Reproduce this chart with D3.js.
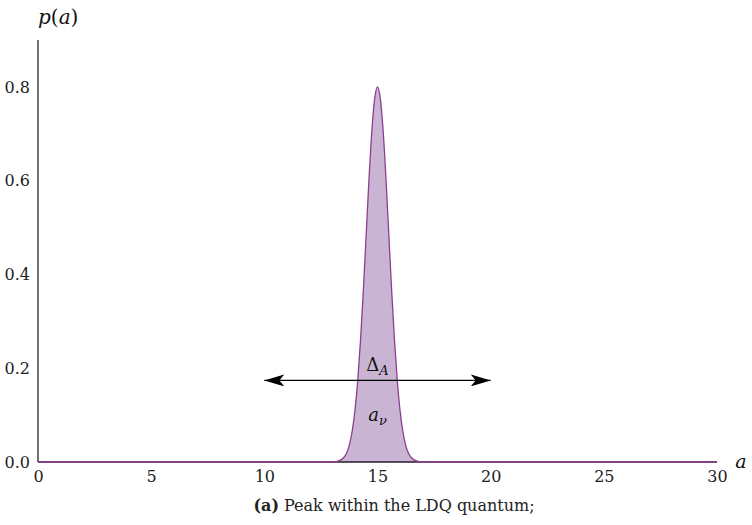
<!DOCTYPE html>
<html>
<head>
<meta charset="utf-8">
<script src="https://cdn.jsdelivr.net/npm/d3@7"></script>
<style>
  body { margin: 0; background: #fff; }
  text { font-family: "DejaVu Serif", "Liberation Serif", serif; }
</style>
</head>
<body>
<div class="chart"></div>
<script>
var svgWidth = 752;
var svgHeight = 525;

var margin = { top: 40, right: 35, bottom: 63, left: 38 };
var width = svgWidth - margin.left - margin.right;
var height = svgHeight - margin.top - margin.bottom;

// values
var aValues = [0, 12.5, 13.0, 13.25, 13.5, 13.625, 13.75, 13.875, 14.0, 14.125, 14.25, 14.375, 14.5, 14.625, 14.75, 14.875,
  15.0, 15.125, 15.25, 15.375, 15.5, 15.625, 15.75, 15.875, 16.0, 16.125, 16.25, 16.375, 16.5, 16.75, 17.0, 17.5, 30];
var pValues = [0, 0, 0, 0.002, 0.009, 0.018, 0.035, 0.064, 0.108, 0.173, 0.26, 0.366, 0.485, 0.604, 0.706, 0.775,
  0.8, 0.775, 0.706, 0.604, 0.485, 0.366, 0.26, 0.173, 0.108, 0.064, 0.035, 0.018, 0.009, 0.002, 0, 0, 0];
var xTicks = [0, 5, 10, 15, 20, 25, 30];
var yTicks = [0.0, 0.2, 0.4, 0.6, 0.8];
var arrowFrom = 10, arrowTo = 20, arrowLevel = 0.174;

var points = aValues.map((a, i) => ({ a: a, p: pValues[i] }));

var svg = d3.select(".chart")
  .append("svg")
  .attr("width", svgWidth)
  .attr("height", svgHeight);

var chartGroup = svg.append("g")
  .attr("transform", `translate(${margin.left}, ${margin.top})`);

var xLinearScale = d3.scaleLinear().domain([0, 30]).range([0, width]);
var yLinearScale = d3.scaleLinear().domain([0, 0.9]).range([height, 0]);

// filled peak
var area = d3.area()
  .x(d => xLinearScale(d.a))
  .y0(yLinearScale(0))
  .y1(d => yLinearScale(d.p))
  .curve(d3.curveMonotoneX);

chartGroup.append("path")
  .datum(points)
  .attr("d", area)
  .attr("fill", "#c9b5d3");

// axes: no tick marks, plain lines
var bottomAxis = d3.axisBottom(xLinearScale).tickValues(xTicks).tickSize(0).tickPadding(9).tickFormat(d3.format("d"));
var leftAxis = d3.axisLeft(yLinearScale).tickValues(yTicks).tickSize(0).tickPadding(8).tickFormat(d3.format(".1f"));

var xAxisG = chartGroup.append("g")
  .attr("transform", `translate(0, ${height})`)
  .call(bottomAxis);
xAxisG.select(".domain").attr("stroke", "#2a1a2e").attr("stroke-width", 1.3).attr("d", `M0,0H${width}`);

var yAxisG = chartGroup.append("g").call(leftAxis);
yAxisG.select(".domain").attr("stroke", "#111").attr("stroke-width", 1.2).attr("d", `M0,${height}V0`);

chartGroup.selectAll(".tick text")
  .attr("font-family", "DejaVu Serif, serif")
  .attr("font-size", "16px")
  .attr("fill", "#222");

// curve outline
var line = d3.line()
  .x(d => xLinearScale(d.a))
  .y(d => yLinearScale(d.p))
  .curve(d3.curveMonotoneX);

chartGroup.append("path")
  .datum(points)
  .attr("d", line)
  .attr("fill", "none")
  .attr("stroke", "#8c3f8e")
  .attr("stroke-width", 1.3);

// double arrow
var defs = svg.append("defs");
defs.append("marker")
  .attr("id", "stealth")
  .attr("viewBox", "0 0 20 12")
  .attr("refX", 20)
  .attr("refY", 6)
  .attr("markerWidth", 20)
  .attr("markerHeight", 12)
  .attr("markerUnits", "userSpaceOnUse")
  .attr("orient", "auto-start-reverse")
  .append("path")
  .attr("d", "M0,0 L20,6 L0,12 L5,6 Z")
  .attr("fill", "#000");

chartGroup.append("line")
  .attr("x1", xLinearScale(arrowFrom))
  .attr("x2", xLinearScale(arrowTo))
  .attr("y1", yLinearScale(arrowLevel))
  .attr("y2", yLinearScale(arrowLevel))
  .attr("stroke", "#000")
  .attr("stroke-width", 1.2)
  .attr("marker-start", "url(#stealth)")
  .attr("marker-end", "url(#stealth)");

// labels on the peak
var deltaLabel = chartGroup.append("text")
  .attr("x", xLinearScale(15))
  .attr("y", yLinearScale(arrowLevel) - 9)
  .attr("text-anchor", "middle")
  .attr("font-size", "18px")
  .attr("fill", "#111");
deltaLabel.append("tspan").text("Δ");
deltaLabel.append("tspan").attr("font-style", "italic").attr("font-size", "13px").attr("dy", 4).text("A");

var avLabel = chartGroup.append("text")
  .attr("x", xLinearScale(15))
  .attr("y", yLinearScale(arrowLevel) + 41)
  .attr("text-anchor", "middle")
  .attr("font-size", "18px")
  .attr("font-style", "italic")
  .attr("fill", "#111");
avLabel.append("tspan").text("a");
avLabel.append("tspan").attr("font-size", "13px").attr("dy", 4).text("ν");

// axis titles
var pLabel = chartGroup.append("text")
  .attr("x", 0)
  .attr("y", -16)
  .attr("text-anchor", "start")
  .attr("font-size", "20px")
  .attr("fill", "#111");
pLabel.append("tspan").attr("font-style", "italic").text("p");
pLabel.append("tspan").text("(");
pLabel.append("tspan").attr("font-style", "italic").text("a");
pLabel.append("tspan").text(")");

chartGroup.append("text")
  .attr("x", width + 24)
  .attr("y", height + 6)
  .attr("text-anchor", "middle")
  .attr("font-size", "19px")
  .attr("font-style", "italic")
  .attr("fill", "#111")
  .text("a");

// caption
var caption = svg.append("text")
  .attr("x", 394)
  .attr("y", 511)
  .attr("text-anchor", "middle")
  .attr("font-size", "16px")
  .attr("fill", "#222");
caption.append("tspan").attr("font-weight", "bold").text("(a)");
caption.append("tspan").text(" Peak within the LDQ quantum;");
</script>
</body>
</html>
